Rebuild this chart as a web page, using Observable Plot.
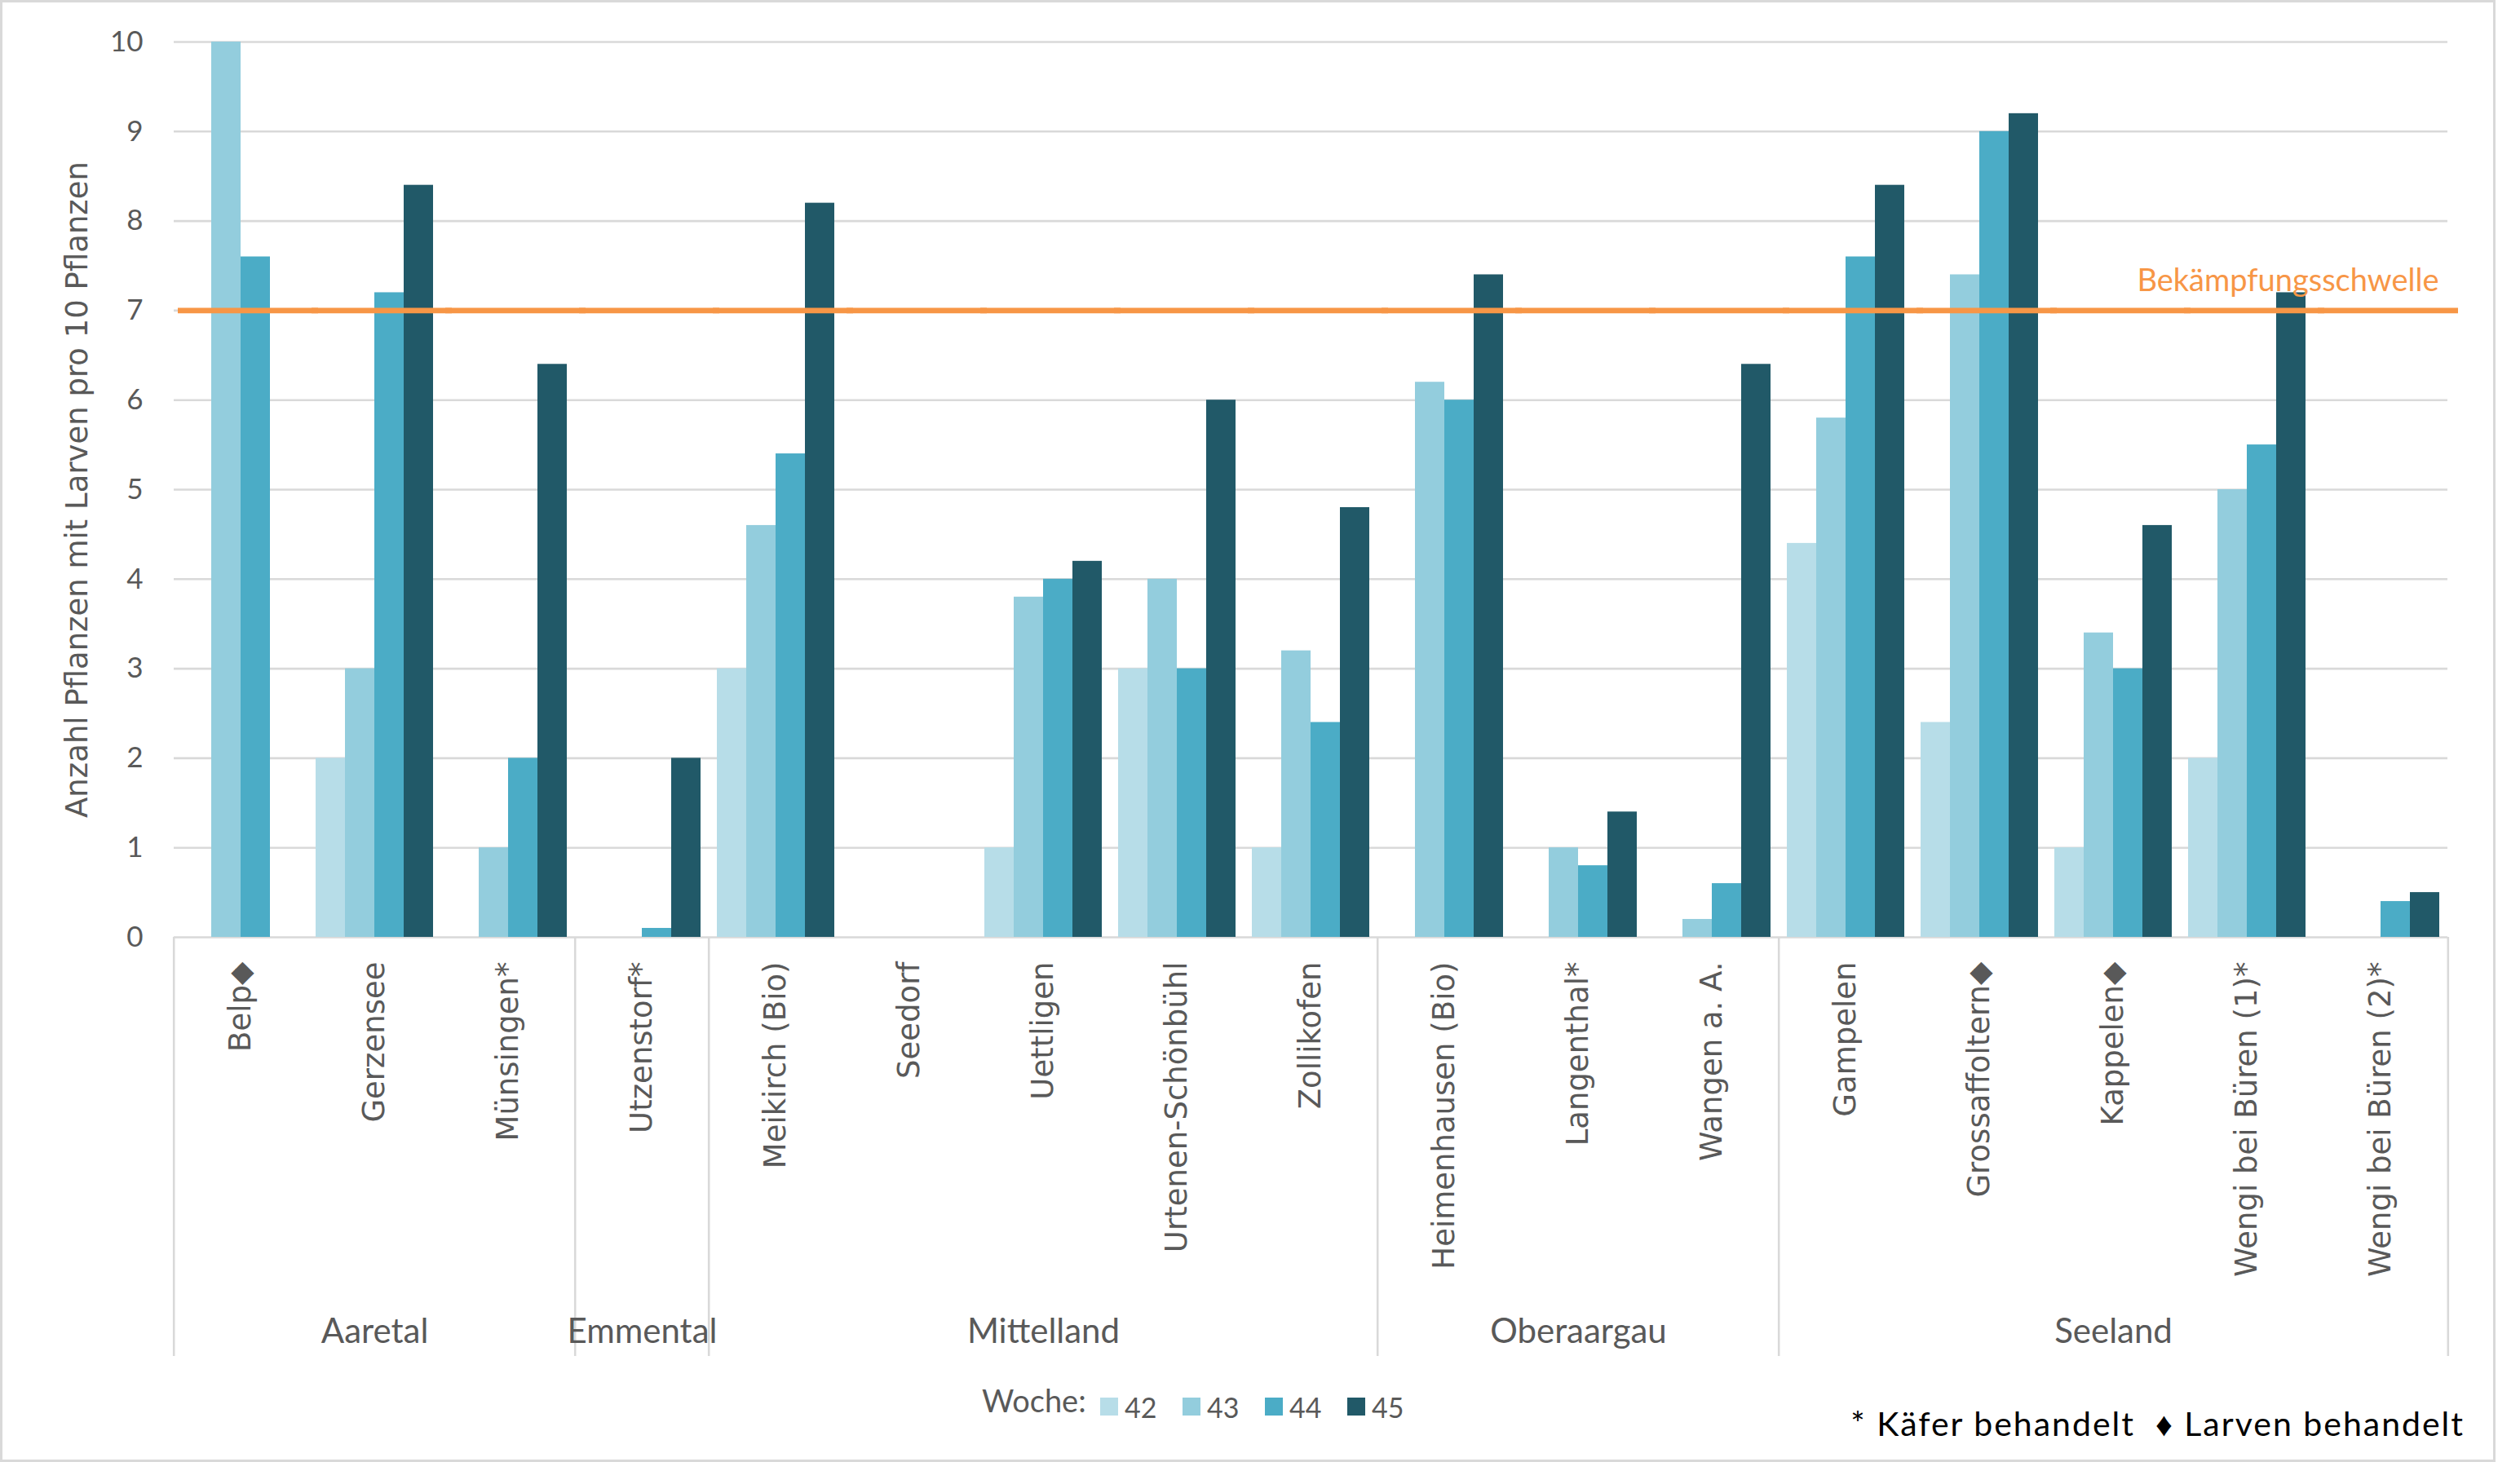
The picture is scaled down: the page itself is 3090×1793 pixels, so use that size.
<!DOCTYPE html>
<html><head><meta charset="utf-8">
<script src="https://cdn.jsdelivr.net/npm/d3@7"></script>
<script src="https://cdn.jsdelivr.net/npm/@observablehq/plot@0.6"></script>
<style>
html,body{margin:0;padding:0;background:#fff;}
#page{position:relative;width:3090px;height:1793px;overflow:hidden;background:#fff;}
#frame{position:absolute;left:0;top:0;width:3060px;height:1793px;box-sizing:border-box;border:3px solid #d9d9d9;pointer-events:none;}
#chart{position:absolute;left:0;top:0;}
#legend{position:absolute;left:1204px;top:1700px;height:50px;display:flex;align-items:center;font-family:Lato,sans-serif;font-size:34px;color:#595959;}
#legend .ttl{width:145px;font-size:38px;position:relative;top:-8px;}
#legend .sw{display:inline-block;width:22px;height:22px;margin-right:8px;}
#legend .it{display:flex;align-items:center;width:101px;}
#note{position:absolute;right:68px;top:1725px;line-height:41px;font-family:Lato,sans-serif;font-size:41px;letter-spacing:2px;color:#000;white-space:pre;}
</style></head>
<body><div id="page"><div id="chart"></div><div id="legend"></div><div id="note"></div><div id="frame"></div></div>
<script>
const sites = ["Belp◆","Gerzensee","Münsingen*","Utzenstorf*","Meikirch (Bio)","Seedorf","Uettligen","Urtenen-Schönbühl","Zollikofen","Heimenhausen (Bio)","Langenthal*","Wangen a. A.","Gampelen","Grossaffoltern◆","Kappelen◆","Wengi bei Büren (1)*","Wengi bei Büren (2)*"];
const regions = ["Aaretal","Aaretal","Aaretal","Emmental","Mittelland","Mittelland","Mittelland","Mittelland","Mittelland","Oberaargau","Oberaargau","Oberaargau","Seeland","Seeland","Seeland","Seeland","Seeland"];
const weeks = ["42","43","44","45"];
const w42 = [0,2,0,0,3,0,1,3,1,0,0,0,4.4,2.4,1,2,0];
const w43 = [10,3,1,0,4.6,0,3.8,4,3.2,6.2,1,0.2,5.8,7.4,3.4,5,0];
const w44 = [7.6,7.2,2,0.1,5.4,0,4,3,2.4,6,0.8,0.6,7.6,9,3,5.5,0.4];
const w45 = [0,8.4,6.4,2,8.2,0,4.2,6,4.8,7.4,1.4,6.4,8.4,9.2,4.6,7.2,0.5];
const weekColors = ["#b7dde8","#93cddd","#4bacc6","#215968"];
const yTicks = [0,1,2,3,4,5,6,7,8,9,10];
const threshold = 7;
const thresholdLabel = "Bekämpfungsschwelle";
const yTitle = "Anzahl Pflanzen mit Larven pro 10 Pflanzen";
const legendTitle = "Woche:";
const noteText = "* Käfer behandelt  ♦ Larven behandelt";

const series = [w42, w43, w44, w45];
const data = sites.flatMap((s, i) => weeks.map((w, j) => ({site: s, region: regions[i], week: w, value: series[j][i]})));

const W = 3090, H = 1700, mL = 208, mR = 84, mT = 51, mB = 551;
const facetW = (W - mL - mR) / sites.length;
const plotH = H - mT - mB;
const sepDown = 514;

const groups = [];
regions.forEach((r, i) => {
  const g = groups[groups.length - 1];
  if (!g || g.name !== r) groups.push({name: r, start: i, end: i}); else g.end = i;
});
const groupLabels = groups.map(g => ({name: g.name, site: sites[Math.floor((g.start + g.end) / 2)]}));
const leftEdges = groups.map(g => sites[g.start]);
const rightEdge = [sites[sites.length - 1]];
const gridStyle = {stroke: "#d9d9d9", strokeOpacity: 1, strokeWidth: 2.6};

const chart = Plot.plot({
  width: W, height: H, marginLeft: mL, marginRight: mR, marginTop: mT, marginBottom: mB,
  style: {background: "transparent", overflow: "visible"},
  fx: {domain: sites, padding: 0},
  x: {domain: weeks, paddingInner: 0, paddingOuter: 0.254, axis: null},
  y: {domain: [0, 10]},
  color: {domain: weeks, range: weekColors},
  marks: [
    Plot.gridY(yTicks, gridStyle),
    Plot.axisY(yTicks, {tickSize: 0, tickPadding: 38, tickFormat: d => String(d), fontFamily: "Lato", fontSize: 35, fill: "#595959", label: null}),
    Plot.barY(data, {fx: "site", x: "week", y: "value", fill: "week", inset: 0}),
    Plot.ruleY([threshold], {stroke: "#f79646", strokeWidth: 6.6, insetLeft: 5, insetRight: -13}),
    Plot.text([{label: thresholdLabel, value: threshold}], {fx: () => sites[sites.length - 1], y: "value", text: "label", frameAnchor: "right", textAnchor: "end", lineAnchor: "bottom", dx: -11, dy: -24, fill: "#f79646", fontFamily: "Lato", fontSize: 38}),
    Plot.axisFx({anchor: "bottom", tickSize: 0, tickPadding: 30, tickRotate: -90, fontFamily: "DejaVu Sans", fontSize: 37, fill: "#595959", label: null}),
    Plot.ruleX(leftEdges, {fx: d => d, x: null, dx: -facetW / 2, insetTop: plotH, insetBottom: -sepDown, ...gridStyle}),
    Plot.ruleX(rightEdge, {fx: d => d, x: null, dx: facetW / 2, insetTop: plotH, insetBottom: -sepDown, ...gridStyle}),
    Plot.text(groupLabels, {fx: "site", text: "name", frameAnchor: "bottom", lineAnchor: "middle", dy: 484, fontFamily: "Lato", fontSize: 42, fill: "#595959"}),
    Plot.text([yTitle], {fx: () => sites[0], frameAnchor: "left", textAnchor: "middle", lineAnchor: "middle", rotate: -90, dx: -118, fontFamily: "DejaVu Sans", fontSize: 37, fill: "#595959"})
  ]
});
document.getElementById("chart").appendChild(chart);

const legend = d3.select("#legend");
legend.append("span").attr("class", "ttl").text(legendTitle);
weeks.forEach((w, i) => {
  const it = legend.append("span").attr("class", "it");
  it.append("span").attr("class", "sw").style("background", weekColors[i]);
  it.append("span").text(w);
});
document.getElementById("note").textContent = noteText;
</script>
</body></html>
